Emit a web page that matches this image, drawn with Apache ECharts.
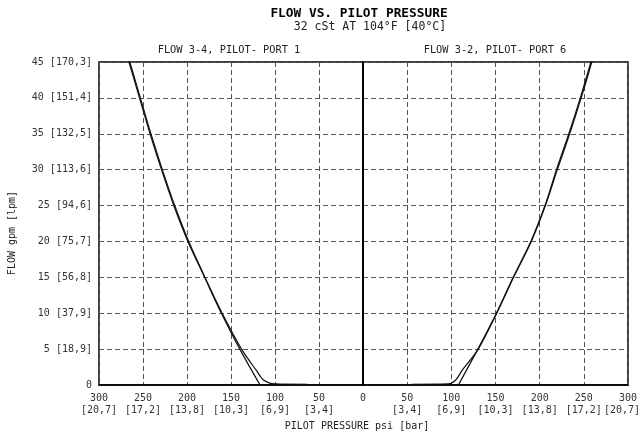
<!DOCTYPE html>
<html>
<head>
<meta charset="UTF-8">
<title>Flow vs. Pilot Pressure</title>
<script src="https://cdn.jsdelivr.net/npm/echarts@6/dist/echarts.min.js"></script>
<style>
  html, body { margin: 0; padding: 0; background: #fff; }
  #main { width: 642px; height: 439px; }
</style>
</head>
<body>
<div id="main"></div>
<script type="text/javascript">
  // psi tick -> bar label
  var psiTicks = [0, 50, 100, 150, 200, 250, 300];
  var barTicks = ['', '3,4', '6,9', '10,3', '13,8', '17,2', '20,7'];
  // gpm tick -> lpm label
  var gpmTicks = [0, 5, 10, 15, 20, 25, 30, 35, 40, 45];
  var lpmTicks = ['', '18,9', '37,9', '56,8', '75,7', '94,6', '113,6', '132,5', '151,4', '170,3'];

  // FLOW 3-4, PILOT- PORT 1 (left panel, x reversed)
  var leftPsiA  = [117, 140, 161, 180, 199, 215, 229, 242, 254, 266, 269];
  var leftFlowA = [0, 5, 10, 15, 20, 25, 30, 35, 40, 45, 46];
  var leftPsiB  = [63, 100, 113, 121, 138, 160, 179.5, 198, 214, 228, 241, 253, 265, 268];
  var leftFlowB = [0.1, 0.15, 0.7, 2, 5, 10, 15, 20, 25, 30, 35, 40, 45, 46];

  // FLOW 3-2, PILOT- PORT 6 (right panel)
  var rightPsiA  = [108, 130, 151, 170, 190, 206, 219, 233, 246, 258, 260];
  var rightFlowA = [0, 5, 10, 15, 20, 25, 30, 35, 40, 45, 46];
  var rightPsiB  = [55, 96.6, 105, 112, 130.5, 151.5, 170.5, 190.5, 206.5, 220, 234, 247, 259, 261];
  var rightFlowB = [0.1, 0.15, 0.7, 2, 5, 10, 15, 20, 25, 30, 35, 40, 45, 46];

  function zip(xs, ys) {
    var out = [];
    for (var i = 0; i < xs.length; i++) out.push([xs[i], ys[i]]);
    return out;
  }
  function psiLabel(v, hideZero) {
    var i = psiTicks.indexOf(v);
    if (v === 0) return hideZero ? '' : '0';
    // last label on the right edge: pull the bar line back inside the canvas
    if (!hideZero && v === 300) return v + '\n[' + barTicks[i] + ']  ';
    return v + '\n[' + barTicks[i] + ']';
  }
  function gpmLabel(v) {
    var i = gpmTicks.indexOf(v);
    if (v === 0) return '0';
    return v + ' [' + lpmTicks[i] + ']';
  }

  var font = 'DejaVu Sans Mono';
  var gridLine = { show: true, lineStyle: { color: '#555', type: [5, 3], width: 1 } };
  var frame = { show: true, lineStyle: { color: '#000', width: 1.5 } };
  var curve = { color: '#111', width: 1.2 };

  var chart = echarts.init(document.getElementById('main'));
  var option = {
    animation: false,
    backgroundColor: '#fff',
    graphic: [
      { type: 'text', x: 359, y: 14, style: { text: 'FLOW VS. PILOT PRESSURE', font: 'bold 12.8px ' + font, fill: '#000', align: 'center', verticalAlign: 'middle' } },
      { type: 'text', x: 370, y: 27, style: { text: '32 cSt AT 104°F [40°C]', font: '11.5px ' + font, fill: '#222', align: 'center', verticalAlign: 'middle' } },
      { type: 'text', x: 229, y: 50, style: { text: 'FLOW 3-4, PILOT- PORT 1', font: '10.3px ' + font, fill: '#222', align: 'center', verticalAlign: 'middle' } },
      { type: 'text', x: 495, y: 50, style: { text: 'FLOW 3-2, PILOT- PORT 6', font: '10.3px ' + font, fill: '#222', align: 'center', verticalAlign: 'middle' } },
      { type: 'text', x: 357, y: 426, style: { text: 'PILOT PRESSURE psi [bar]', font: '10px ' + font, fill: '#222', align: 'center', verticalAlign: 'middle' } },
      { type: 'text', x: 12, y: 233, rotation: Math.PI / 2, style: { text: 'FLOW gpm [lpm]', font: '10px ' + font, fill: '#222', align: 'center', verticalAlign: 'middle' } }
    ],
    grid: [
      { left: 99, right: 279, top: 62, bottom: 54, outerBoundsMode: 'none', containLabel: false, show: true, borderColor: '#000', borderWidth: 1.5 },
      { left: 363, right: 14, top: 62, bottom: 54, outerBoundsMode: 'none', containLabel: false, show: true, borderColor: '#000', borderWidth: 1.5 }
    ],
    xAxis: [
      {
        gridIndex: 0, type: 'value', inverse: true, min: 0, max: 300, interval: 50,
        axisLine: frame, axisTick: { show: false }, splitLine: gridLine,
        axisLabel: { formatter: function (v) { return psiLabel(v, true); }, fontFamily: font, fontSize: 10, color: '#333', lineHeight: 12, margin: 7 }
      },
      {
        gridIndex: 1, type: 'value', min: 0, max: 300, interval: 50,
        axisLine: frame, axisTick: { show: false }, splitLine: gridLine,
        axisLabel: { formatter: function (v) { return psiLabel(v, false); }, fontFamily: font, fontSize: 10, color: '#333', lineHeight: 12, margin: 7 }
      }
    ],
    yAxis: [
      {
        gridIndex: 0, type: 'value', min: 0, max: 45, interval: 5,
        axisLine: frame, axisTick: { show: false }, splitLine: gridLine,
        axisLabel: { formatter: gpmLabel, fontFamily: font, fontSize: 10, color: '#333', margin: 7 }
      },
      {
        gridIndex: 1, type: 'value', min: 0, max: 45, interval: 5,
        axisLine: frame, axisTick: { show: false }, splitLine: gridLine,
        axisLabel: { show: false }
      }
    ],
    series: [
      { type: 'line', xAxisIndex: 0, yAxisIndex: 0, data: zip(leftPsiA, leftFlowA), smooth: 0.3, showSymbol: false, clip: true, lineStyle: curve },
      { type: 'line', xAxisIndex: 0, yAxisIndex: 0, data: zip(leftPsiB, leftFlowB), smooth: 0.3, showSymbol: false, clip: true, lineStyle: curve },
      { type: 'line', xAxisIndex: 1, yAxisIndex: 1, data: zip(rightPsiA, rightFlowA), smooth: 0.3, showSymbol: false, clip: true, lineStyle: curve },
      { type: 'line', xAxisIndex: 1, yAxisIndex: 1, data: zip(rightPsiB, rightFlowB), smooth: 0.3, showSymbol: false, clip: true, lineStyle: curve }
    ]
  };
  chart.setOption(option);
</script>
</body>
</html>
